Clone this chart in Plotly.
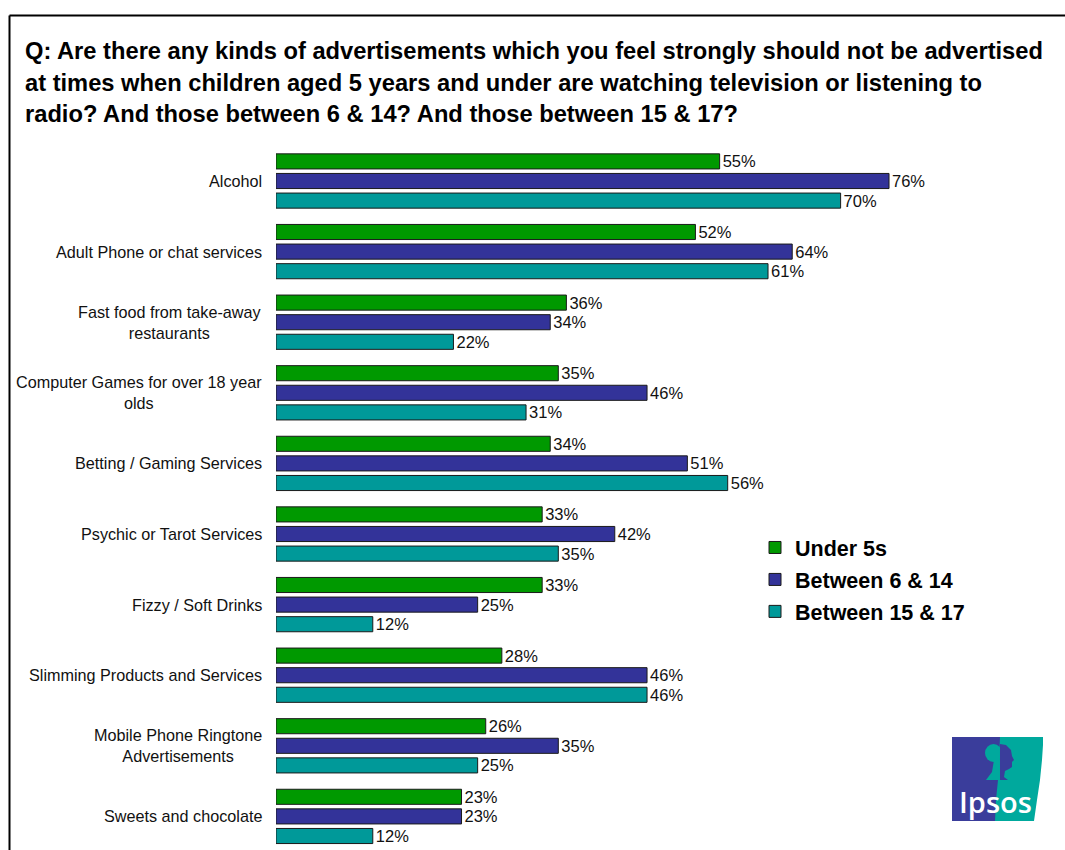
import plotly.graph_objects as go

# ---- data -------------------------------------------------------------
categories = [
    "Alcohol",
    "Adult Phone or chat services",
    "Fast food from take-away<br>restaurants",
    "Computer Games for over 18 year<br>olds",
    "Betting / Gaming Services",
    "Psychic or Tarot Services",
    "Fizzy / Soft Drinks",
    "Slimming Products and Services",
    "Mobile Phone Ringtone<br>Advertisements",
    "Sweets and chocolate",
]
under_5s = [55, 52, 36, 35, 34, 33, 33, 28, 26, 23]
between_6_14 = [76, 64, 34, 46, 51, 42, 25, 46, 35, 23]
between_15_17 = [70, 61, 22, 31, 56, 35, 12, 46, 25, 12]

series_names = ["Under 5s", "Between 6 & 14", "Between 15 & 17"]
series_values = [under_5s, between_6_14, between_15_17]
series_colors = ["#009900", "#333399", "#009999"]

title_lines = [
    "Q: Are there any kinds of advertisements which you feel strongly should not be advertised",
    "at times when children aged 5 years and under are watching television or listening to",
    "radio? And those between 6 & 14? And those between 15 & 17?",
]

# ---- geometry ---------------------------------------------------------
W, H = 1065, 850
ML, MR, MT, MB = 276, 15, 146, 0
PW, PH = W - ML - MR, H - MT - MB
PX_PER_PCT = 8.066
CAT_PITCH = 70.6
FONT = "Arial, Liberation Sans, sans-serif"


def px(x):
    return (x - ML) / PW


def py(y):
    return 1 - (y - MT) / PH


fig = go.Figure()
for name, vals, col in zip(series_names, series_values, series_colors):
    fig.add_trace(go.Bar(
        y=categories, x=vals, orientation="h", name=name, legendgroup=name,
        marker=dict(color=col, line=dict(color="#1a1a1a", width=1)),
        text=[f"{v}%" for v in vals], textposition="outside",
        textfont=dict(family=FONT, size=16.5, color="#111111"),
        constraintext="none", cliponaxis=False,
        hoverinfo="skip",
    ))

# category labels, centred within their own block and right-aligned to the axis
annotations = []
for c in categories:
    annotations.append(dict(
        x=px(263.5), xref="paper", y=c, yref="y", text=c, showarrow=False,
        xanchor="right", yanchor="middle", align="center",
        font=dict(family=FONT, size=16.2, color="#111111"),
    ))

# question title
for i, line in enumerate(title_lines):
    annotations.append(dict(
        x=px(23), xref="paper", y=py(51 + 31.5 * i), yref="paper", text=line,
        showarrow=False, xanchor="left", yanchor="middle",
        font=dict(family=FONT, size=23.7, color="#000000", weight="bold"),
    ))

# logo wordmark
annotations.append(dict(
    x=px(995), xref="paper", y=py(801), yref="paper", text="Ipsos",
    showarrow=False, xanchor="center", yanchor="middle",
    font=dict(family="Open Sans, Lato, sans-serif", size=29, color="white", weight=600),
))

shapes = [
    # frame
    dict(type="line", xref="paper", yref="paper", x0=px(9.5), x1=px(1070), y0=py(15.5), y1=py(15.5),
         line=dict(color="black", width=2)),
    dict(type="line", xref="paper", yref="paper", x0=px(9.5), x1=px(9.5), y0=py(15.5), y1=py(860),
         line=dict(color="black", width=2)),
    # logo: blue block
    dict(type="rect", xref="paper", yref="paper", x0=px(952), x1=px(1000), y0=py(737), y1=py(821),
         fillcolor="#3a3d9b", line=dict(width=0), layer="above"),
]


def path(points, close=True):
    s = "M " + " L ".join(f"{px(x):.5f},{py(y):.5f}" for x, y in points)
    return s + (" Z" if close else "")


# logo: teal block with curved right edge
teal_pts = [(1000, 737), (1043, 737), (1043, 745), (1042, 760), (1040, 780), (1037, 800),
            (1034, 821), (995, 821), (996, 800), (998, 780), (999, 760)]
shapes.append(dict(type="path", xref="paper", yref="paper", path=path(teal_pts),
                   fillcolor="#00a99d", line=dict(width=0), layer="above"))
# tree crown and trunk in the blue half
shapes.append(dict(type="circle", xref="paper", yref="paper", x0=px(985), x1=px(1002),
                   y0=py(744), y1=py(762), fillcolor="#00a99d", line=dict(width=0), layer="above"))
shapes.append(dict(type="path", xref="paper", yref="paper",
                   path=path([(994, 760), (1000, 760), (1000, 780), (986, 780), (992, 772)]),
                   fillcolor="#00a99d", line=dict(width=0), layer="above"))
# face profile in the teal half
face_pts = [(1000, 744), (1006, 745), (1011, 750), (1012, 756), (1014, 760), (1012, 762),
            (1012, 767), (1009, 769), (1005, 771), (1004, 777), (1008, 780), (1000, 780)]
shapes.append(dict(type="path", xref="paper", yref="paper", path=path(face_pts),
                   fillcolor="#3a3d9b", line=dict(width=0), layer="above"))

# first category centred at y=181 px, one category every CAT_PITCH px
first_center = 181
y_top = -0.5 - (first_center - CAT_PITCH / 2 - MT) / CAT_PITCH
y_bottom = y_top + PH / CAT_PITCH

fig.update_layout(
    width=W, height=H,
    margin=dict(l=ML, r=MR, t=MT, b=MB, pad=0),
    paper_bgcolor="white", plot_bgcolor="white",
    barmode="group", bargap=0.167, bargroupgap=0.23,
    xaxis=dict(range=[0, PW / PX_PER_PCT], visible=False, fixedrange=True),
    yaxis=dict(type="category", categoryorder="array", categoryarray=categories,
               range=[y_bottom, y_top],
               showticklabels=False, showgrid=False, zeroline=False, showline=False,
               ticks="", fixedrange=True),
    showlegend=True,
    legend=dict(x=px(755), xanchor="left", y=py(527), yanchor="top",
                font=dict(family=FONT, size=21.5, color="#000000", weight="bold"),
                bgcolor="rgba(0,0,0,0)", traceorder="grouped", tracegroupgap=1,
                itemclick=False),
    annotations=annotations,
    shapes=shapes,
)

fig.write_html("out.html")
